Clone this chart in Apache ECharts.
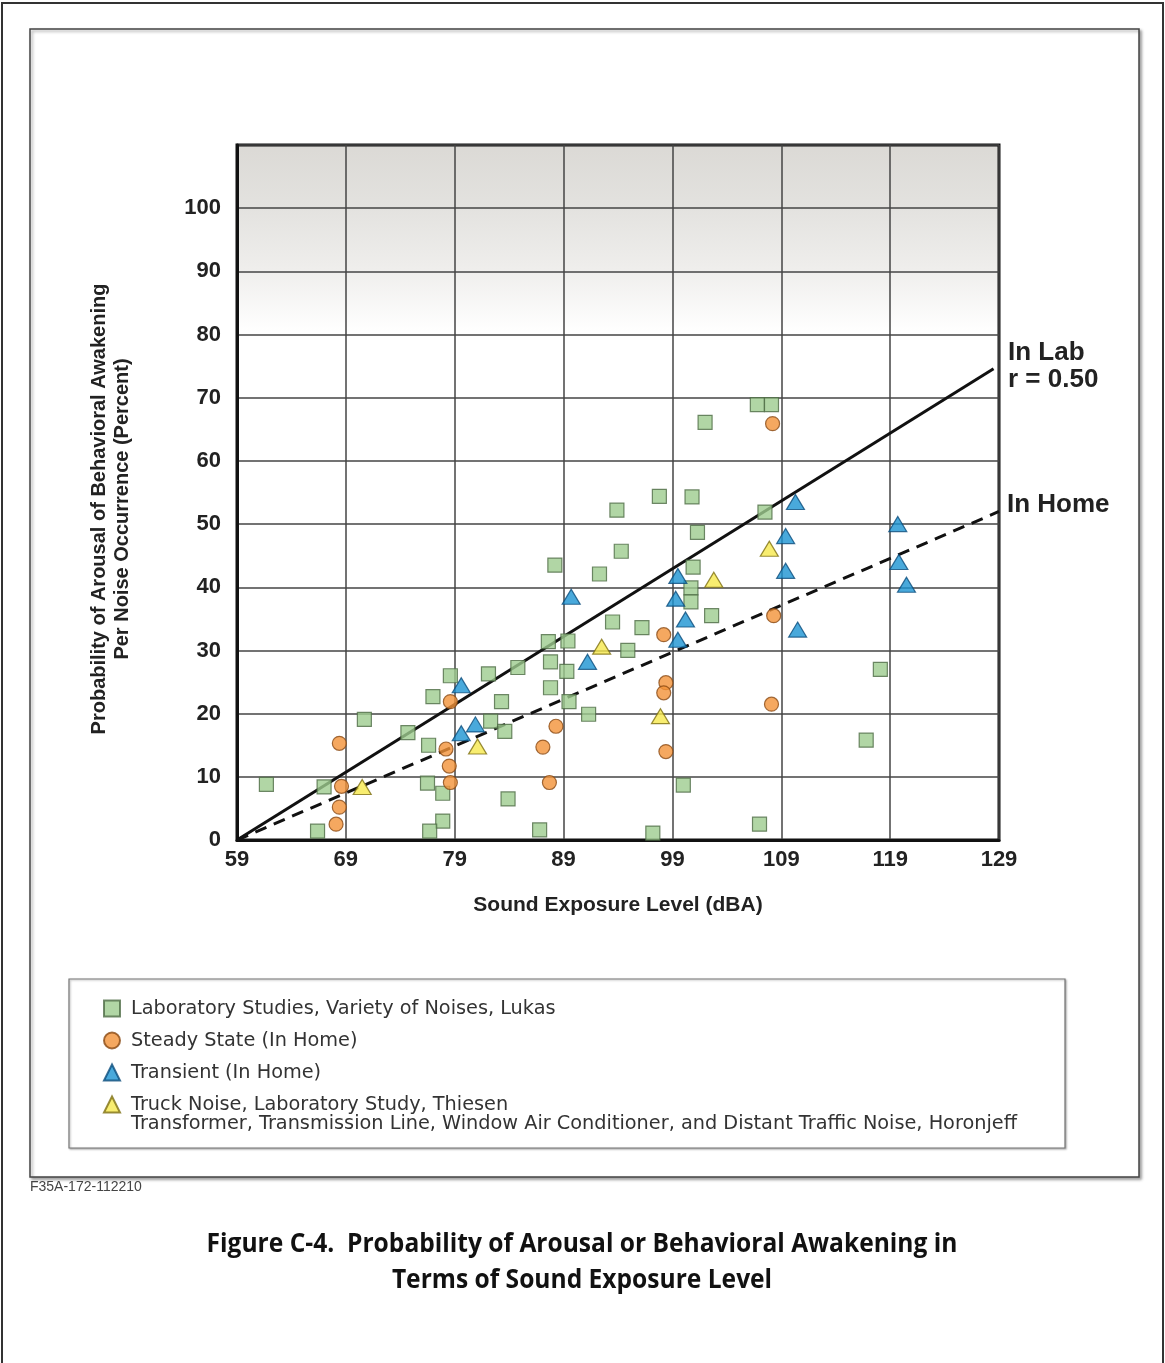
<!DOCTYPE html>
<html>
<head>
<meta charset="utf-8">
<script src="https://cdn.jsdelivr.net/npm/echarts@6/dist/echarts.min.js"></script>
<style>
html,body{margin:0;padding:0;background:#fff;}
#c{width:1165px;height:1363px;}
</style>
</head>
<body>
<div id="c"></div>
<script>
// ---- Data ----
const labStudies = [
  [61.7,8.8],[67.0,8.4],[66.4,1.4],[70.7,19.1],[74.7,17.0],[77.0,22.7],[76.6,15.0],
  [76.5,9.0],[77.9,7.4],[77.9,3.0],[76.7,1.4],[78.6,26.0],[82.1,26.3],[82.3,18.8],
  [83.3,21.9],[83.6,17.2],[83.9,6.5],[84.8,27.3],[86.8,1.6],[87.6,31.4],[87.8,24.1],
  [87.8,28.2],[88.2,43.5],[89.4,31.5],[89.3,26.7],[89.5,21.9],[91.3,19.9],[92.3,42.1],
  [93.5,34.5],[93.9,52.2],[94.3,45.7],[94.9,30.0],[96.2,33.6],[97.2,1.1],[97.8,54.4],
  [100.0,8.7],[100.7,39.9],[100.7,37.7],[100.8,54.3],[100.9,43.2],[101.3,48.7],
  [102.0,66.1],[102.6,35.5],[106.8,68.9],[108.1,68.9],[107.5,51.9],[107.0,2.5],
  [116.8,15.8],[118.1,27.0]
];
const steadyState = [
  [68.4,15.3],[68.6,8.5],[68.4,5.2],[68.1,2.5],[78.6,21.9],[78.2,14.4],[78.5,11.7],
  [78.6,9.1],[88.3,18.0],[87.1,14.7],[87.7,9.1],[98.2,32.5],[98.4,24.9],[98.2,23.3],
  [98.4,14.0],[108.2,65.9],[108.3,35.5],[108.1,21.5]
];
const transient = [
  [79.6,24.5],[79.6,16.9],[80.9,18.3],[89.7,38.5],[91.2,28.2],[99.5,41.8],[99.3,38.2],
  [100.2,34.9],[99.5,31.7],[110.3,53.5],[109.4,48.1],[109.4,42.6],[119.7,50.0],
  [119.8,44.0],[120.5,40.4],[110.5,33.3]
];
const truckNoise = [
  [70.5,8.4],[81.1,14.8],[92.5,30.6],[97.9,19.6],[102.8,41.2],[107.9,46.1]
];
const inLabLine  = [[59,0],[128.5,74.6]];
const inHomeLine = [[59,0],[129,52]];

const seriesNames = [
  'Laboratory Studies, Variety of Noises, Lukas',
  'Steady State (In Home)',
  'Transient (In Home)',
  'Truck Noise, Laboratory Study, Thiesen\nTransformer, Transmission Line, Window Air Conditioner, and Distant Traffic Noise, Horonjeff'
];
const xTicks = [59,69,79,89,99,109,119,129];
const yTicks = [0,10,20,30,40,50,60,70,80,90,100];
const xTitle = 'Sound Exposure Level (dBA)';
const yTitle = 'Probability of Arousal of Behavioral Awakening\nPer Noise Occurrence (Percent)';
const labLabel = 'In Lab\nr = 0.50';
const homeLabel = 'In Home';
const figCode = 'F35A-172-112210';
const caption = 'Figure C-4.  Probability of Arousal or Behavioral Awakening in\nTerms of Sound Exposure Level';

const FONT = "'Liberation Sans', Arial, Helvetica, sans-serif";
const LFONT = "'DejaVu Sans', 'Liberation Sans', sans-serif";
const chart = echarts.init(document.getElementById('c'), null, {renderer:'canvas'});

const lastName = seriesNames[3].split('\n');

const option = {
  animation:false,
  backgroundColor:'#fff',
  grid:{
    left:237, top:145, width:762, height:695,
    show:true, borderColor:'#111', borderWidth:3,
    backgroundColor:new echarts.graphic.LinearGradient(0,0,0,1,[
      {offset:0,color:'#dbd9d5'},
      {offset:0.09,color:'#e3e2df'},
      {offset:0.18,color:'#efeeec'},
      {offset:0.27,color:'#ffffff'},
      {offset:1,color:'#ffffff'}
    ])
  },
  xAxis:{
    type:'value', min:59, max:129, interval:10,
    name:xTitle, nameLocation:'middle', nameGap:55,
    nameTextStyle:{fontFamily:FONT, fontWeight:'bold', fontSize:21, color:'#222'},
    axisLine:{lineStyle:{color:'#111', width:3}},
    axisTick:{show:false},
    axisLabel:{fontFamily:FONT, fontWeight:'bold', fontSize:22, color:'#222', margin:9,
      formatter:v=>xTicks.includes(v)?String(v):''},
    splitLine:{show:true, lineStyle:{color:'#444', width:1.5}}
  },
  yAxis:{
    type:'value', min:0, max:110, interval:10,
    axisLine:{lineStyle:{color:'#111', width:3}},
    axisTick:{show:false},
    axisLabel:{fontFamily:FONT, fontWeight:'bold', fontSize:22, color:'#222', margin:16,
      formatter:v=>yTicks.includes(v)?String(v):''},
    splitLine:{show:true, lineStyle:{color:'#444', width:1.5}}
  },
  legend:{
    orient:'vertical', left:98, top:993, itemGap:11,
    itemWidth:16, itemHeight:16,
    formatter:n=>n.split('\n')[0],
    textStyle:{fontFamily:LFONT, fontSize:19.3, color:'#333', lineHeight:21, padding:[0,0,0,6]},
    data:seriesNames.map((n,i)=>({name:n, icon:['rect','circle','triangle','triangle'][i]}))
  },
  series:[
    {type:'line', data:inLabLine, symbol:'none', silent:true,
      lineStyle:{color:'#111', width:3}, z:3},
    {type:'line', data:inHomeLine, symbol:'none', silent:true,
      lineStyle:{color:'#111', width:3, type:[12,8]}, z:3},
    {name:seriesNames[0], type:'scatter', data:labStudies, symbol:'rect', symbolSize:14,
      itemStyle:{color:'#9dcc8e', borderColor:'#4d6b45', borderWidth:1.2}, z:4},
    {name:seriesNames[1], type:'scatter', data:steadyState, symbol:'circle', symbolSize:14,
      itemStyle:{color:'#f39238', borderColor:'#8a4a14', borderWidth:1.2}, z:5},
    {name:seriesNames[2], type:'scatter', data:transient, symbol:'triangle', symbolSize:[18,15],
      itemStyle:{color:'#1c93d2', borderColor:'#0b4c7c', borderWidth:1.2}, z:6},
    {name:seriesNames[3], type:'scatter', data:truckNoise, symbol:'triangle', symbolSize:[18,15],
      itemStyle:{color:'#f6e84c', borderColor:'#7d6f12', borderWidth:1.2}, z:6}
  ],
  graphic:[
    {type:'rect', z:-10, shape:{x:2,y:3,width:1161,height:1370},
      style:{fill:'none', stroke:'#333', lineWidth:2}},
    {type:'rect', z:-9, shape:{x:30,y:29,width:1109,height:1148},
      style:{fill:'#fff', stroke:'#444', lineWidth:1.5, shadowColor:'rgba(0,0,0,0.35)', shadowBlur:3, shadowOffsetX:2, shadowOffsetY:2}},
    {type:'rect', z:-8, shape:{x:69,y:979,width:996,height:169},
      style:{fill:'#fff', stroke:'#777', lineWidth:1.2, shadowColor:'rgba(0,0,0,0.3)', shadowBlur:2, shadowOffsetX:1, shadowOffsetY:1}},
    {type:'text', x:131, y:1124,
      style:{text:lastName[1], fontFamily:LFONT, fontSize:19.3, fill:'#333', verticalAlign:'middle'}},
    {type:'text', x:111, y:509, rotation:Math.PI/2,
      style:{text:yTitle, fontFamily:FONT, fontWeight:'bold', fontSize:20, lineHeight:23, fill:'#222', align:'center', verticalAlign:'middle'}},
    {type:'text', x:1008, y:339,
      style:{text:labLabel, fontFamily:FONT, fontWeight:'bold', fontSize:26, lineHeight:27, fill:'#222'}},
    {type:'text', x:1007, y:492,
      style:{text:homeLabel, fontFamily:FONT, fontWeight:'bold', fontSize:26, fill:'#222'}},
    {type:'text', x:30, y:1180,
      style:{text:figCode, fontFamily:FONT, fontSize:14, fill:'#444'}},
    {type:'text', x:582, y:1262, scaleX:0.91,
      style:{text:caption, fontFamily:"'Open Sans','Noto Sans',sans-serif", fontWeight:'bold', fontSize:27, lineHeight:36, fill:'#111', align:'center', verticalAlign:'middle'}}
  ]
};
chart.setOption(option);
</script>
</body>
</html>
